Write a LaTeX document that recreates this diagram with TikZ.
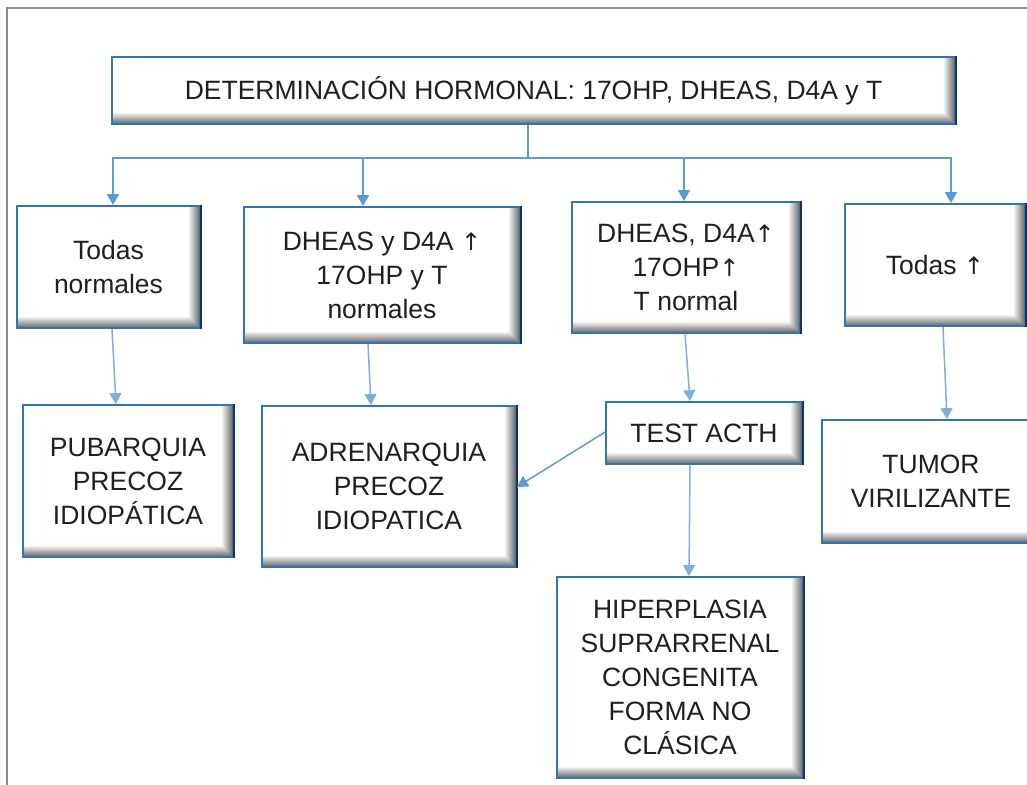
\documentclass[tikz,border=0pt]{standalone}
\usepackage{fontspec}
\setmainfont{Liberation Sans}
\newfontfamily\arrowfont{DejaVu Sans}
\newcommand{\upar}{{\arrowfont\fontsize{24}{34}\selectfont ↑}}
\usetikzlibrary{arrows.meta}
\definecolor{boxblue}{HTML}{2E75B6}
\definecolor{connblue}{HTML}{5B9BD5}
\definecolor{navyedge}{HTML}{1F3350}
\tikzset{
  bx/.style={draw=boxblue, line width=1.8pt, fill=white, inner sep=0pt, align=center,
    font=\fontsize{26.5}{34}\selectfont, text=black!88,
    path picture={
      \foreach \i in {0,...,10} {
        \pgfmathtruncatemacro\bev{56-5*\i}
        \fill[black!\bev] ([xshift=-\i pt-1pt]path picture bounding box.north east)
          rectangle ([xshift=-\i pt]path picture bounding box.south east);
      }
      \foreach \i in {0,...,10} {
        \pgfmathtruncatemacro\bev{56-5*\i}
        \fill[black!\bev] ([yshift=\i pt]path picture bounding box.south west)
          rectangle ([yshift=\i pt+1pt,xshift=-\i pt]path picture bounding box.south east);
      }
    },
    append after command={(\tikzlastnode.north east) edge[draw=navyedge, line width=1.6pt] (\tikzlastnode.south east)}},
  conn/.style={draw=connblue, line width=1.5pt},
  arr/.style={conn, -{Triangle[width=12pt,length=11pt]}},
  arrl/.style={arr, draw=connblue!80},
}
\begin{document}
\begin{tikzpicture}[x=1pt,y=-1pt]
\useasboundingbox (0,0) rectangle (1027,784);
\clip (0,0) rectangle (1027,784);
\fill[white] (0,0) rectangle (1027,784);
\draw[black!45, line width=2pt] (7,8) rectangle (1045,800);

\node[bx, minimum width=843pt, minimum height=67pt] (top) at (533.5,90.5)
  {DETERMINACIÓN HORMONAL: 17OHP, DHEAS, D4A y T};

\node[bx, minimum width=183pt, minimum height=122pt] (b1) at (108.5,267) {Todas\\normales};
\node[bx, minimum width=276pt, minimum height=136pt] (b2) at (382,275) {DHEAS y D4A \upar\\17OHP y T\\normales};
\node[bx, minimum width=228pt, minimum height=131pt] (b3) at (686,267.5) {DHEAS, D4A\upar\\17OHP\upar\\T normal};
\node[bx, minimum width=180pt, minimum height=122pt] (b4) at (935,265) {Todas \upar};

\node[bx, minimum width=210pt, minimum height=152pt] (b5) at (128,481) {PUBARQUIA\\PRECOZ\\IDIOPÁTICA};
\node[bx, minimum width=254pt, minimum height=161pt] (b6) at (389,486.5) {ADRENARQUIA\\PRECOZ\\IDIOPATICA};
\node[bx, minimum width=196pt, minimum height=62pt] (b7) at (704,433) {TEST ACTH};
\node[bx, minimum width=218pt, minimum height=123pt] (b8) at (931,481.5) {TUMOR\\VIRILIZANTE};
\node[bx, minimum width=246pt, minimum height=201pt] (b9) at (680,677.5)
  {HIPERPLASIA\\SUPRARRENAL\\CONGENITA\\FORMA NO\\CLÁSICA};

\coordinate (bus) at (528,158);
\draw[conn] (top.south -| bus) -- (bus);
\draw[arr] (bus) -| (b1.north -| 113,0);
\draw[arr] (bus) -| (b2.north -| 363,0);
\draw[arr] (bus) -| (b3.north -| 684,0);
\draw[arr] (bus) -| (b4.north -| 951,0);

\draw[arrl] (b1.south -| 112,0) -- (b5.north -| 116,0);
\draw[arrl] (b2.south -| 368,0) -- (b6.north -| 371,0);
\draw[arrl] (b3.south -| 685,0) -- (b7.north -| 690,0);
\draw[arrl] (b4.south -| 943,0) -- (b8.north -| 947,0);
\draw[arrl] (b7.south -| 690,0) -- (b9.north -| 689,0);
\draw[arr] (b7.west |- 0,432) -- (b6.east |- 0,487);
\end{tikzpicture}
\end{document}
